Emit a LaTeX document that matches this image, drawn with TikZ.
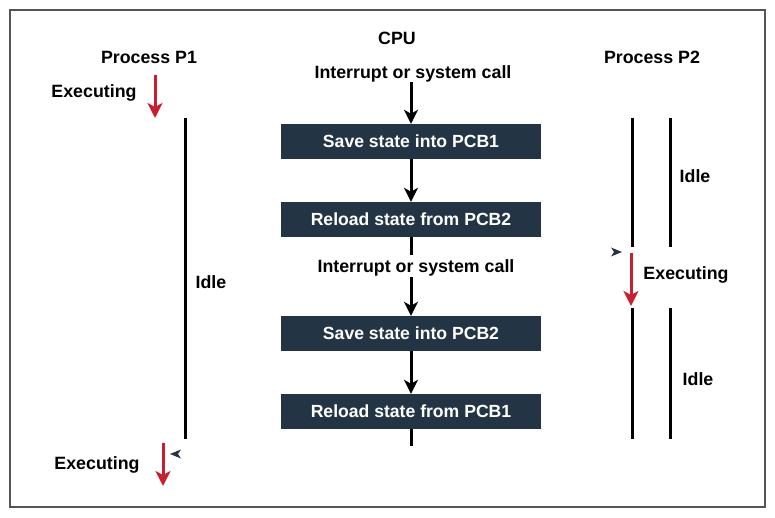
\documentclass[tikz,border=0pt]{standalone}
\usepackage{fontspec}
\setmainfont{Liberation Sans}
\usetikzlibrary{arrows.meta}
\definecolor{boxfill}{HTML}{233545}
\definecolor{redarr}{HTML}{C8202F}
\definecolor{framec}{HTML}{555555}
\begin{document}
\begin{tikzpicture}[x=1pt,y=-1pt,
  lbl/.style={font=\fontsize{17.8}{20}\selectfont\bfseries, inner sep=1pt, yshift=-1.5pt},
  stepbox/.style={fill=boxfill, text=white, minimum width=260pt, minimum height=35pt,
    inner sep=0pt, font=\fontsize{17.6}{20}\selectfont\bfseries},
  blk/.style={line width=3pt, black},
  blkarr/.style={blk, -{Stealth[length=14pt,width=14pt,inset=4pt]}},
  redarrow/.style={line width=3pt, redarr, -{Stealth[length=15pt,width=15pt,inset=4pt]}},
  tick/.style={fill=boxfill}
]
\useasboundingbox (0,0) rectangle (775,518);
\draw[framec, line width=1.2pt] (10,10) rectangle (765,507);

% titles
\node[lbl] (cpu) at (397,37) {CPU};
\node[lbl] (p1) at (149,56) {Process P1};
\node[lbl] (p2) at (652,56) {Process P2};

% CPU column
\node[lbl] (int1) at (413,72) {Interrupt or system call};
\node[stepbox] (b1) at (411,141.5) {Save state into PCB1};
\node[stepbox] (b2) at (411,219.5) {Reload state from PCB2};
\node[lbl] (int2) at (416,266) {Interrupt or system call};
\node[stepbox] (b3) at (411,333.5) {Save state into PCB2};
\node[stepbox] (b4) at (411,411.5) {Reload state from PCB1};
\coordinate (a0) at (411,82);
\coordinate (c2a) at (411,255);
\coordinate (c2b) at (411,277);
\coordinate (cend) at (411,446);

\draw[blkarr] (a0) -- (b1.north);
\draw[blkarr] (b1.south) -- (b2.north);
\draw[blk] (b2.south) -- (c2a);
\draw[blkarr] (c2b) -- (b3.north);
\draw[blkarr] (b3.south) -- (b4.north);
\draw[blk] (b4.south) -- (cend);

% Process P1
\node[lbl] (ex1) at (94,91) {Executing};
\coordinate (r1s) at (155,75);
\coordinate (r1e) at (155,118);
\draw[redarrow] (r1s) -- (r1e);
\coordinate (i1s) at (185,118);
\coordinate (i1e) at (185,439);
\draw[blk] (i1s) -- (i1e);
\node[lbl] (idle1) at (211,281) {Idle};
\node[lbl] (ex3) at (97,463) {Executing};
\coordinate (r3s) at (163,443);
\coordinate (r3e) at (163,486);
\draw[redarrow] (r3s) -- (r3e);
\fill[tick] (170,454) -- (181,449.5) -- (178,454) -- (181,458.5) -- cycle;

% Process P2
\coordinate (pa1) at (632,118);
\coordinate (pa2) at (632,247);
\coordinate (pb1) at (670,118);
\coordinate (pb2) at (670,247);
\draw[blk] (pa1) -- (pa2);
\draw[blk] (pb1) -- (pb2);
\node[lbl] (idle2) at (695,175) {Idle};
\coordinate (r2s) at (631,253);
\coordinate (r2e) at (631,306);
\draw[redarrow] (r2s) -- (r2e);
\node[lbl] (ex2) at (686,273) {Executing};
\fill[tick] (622,252) -- (611,247.5) -- (614,252) -- (611,256.5) -- cycle;
\coordinate (pc1) at (632,308);
\coordinate (pc2) at (632,439);
\coordinate (pd1) at (670,308);
\coordinate (pd2) at (670,439);
\draw[blk] (pc1) -- (pc2);
\draw[blk] (pd1) -- (pd2);
\node[lbl] (idle3) at (698,378) {Idle};
\end{tikzpicture}
\end{document}
